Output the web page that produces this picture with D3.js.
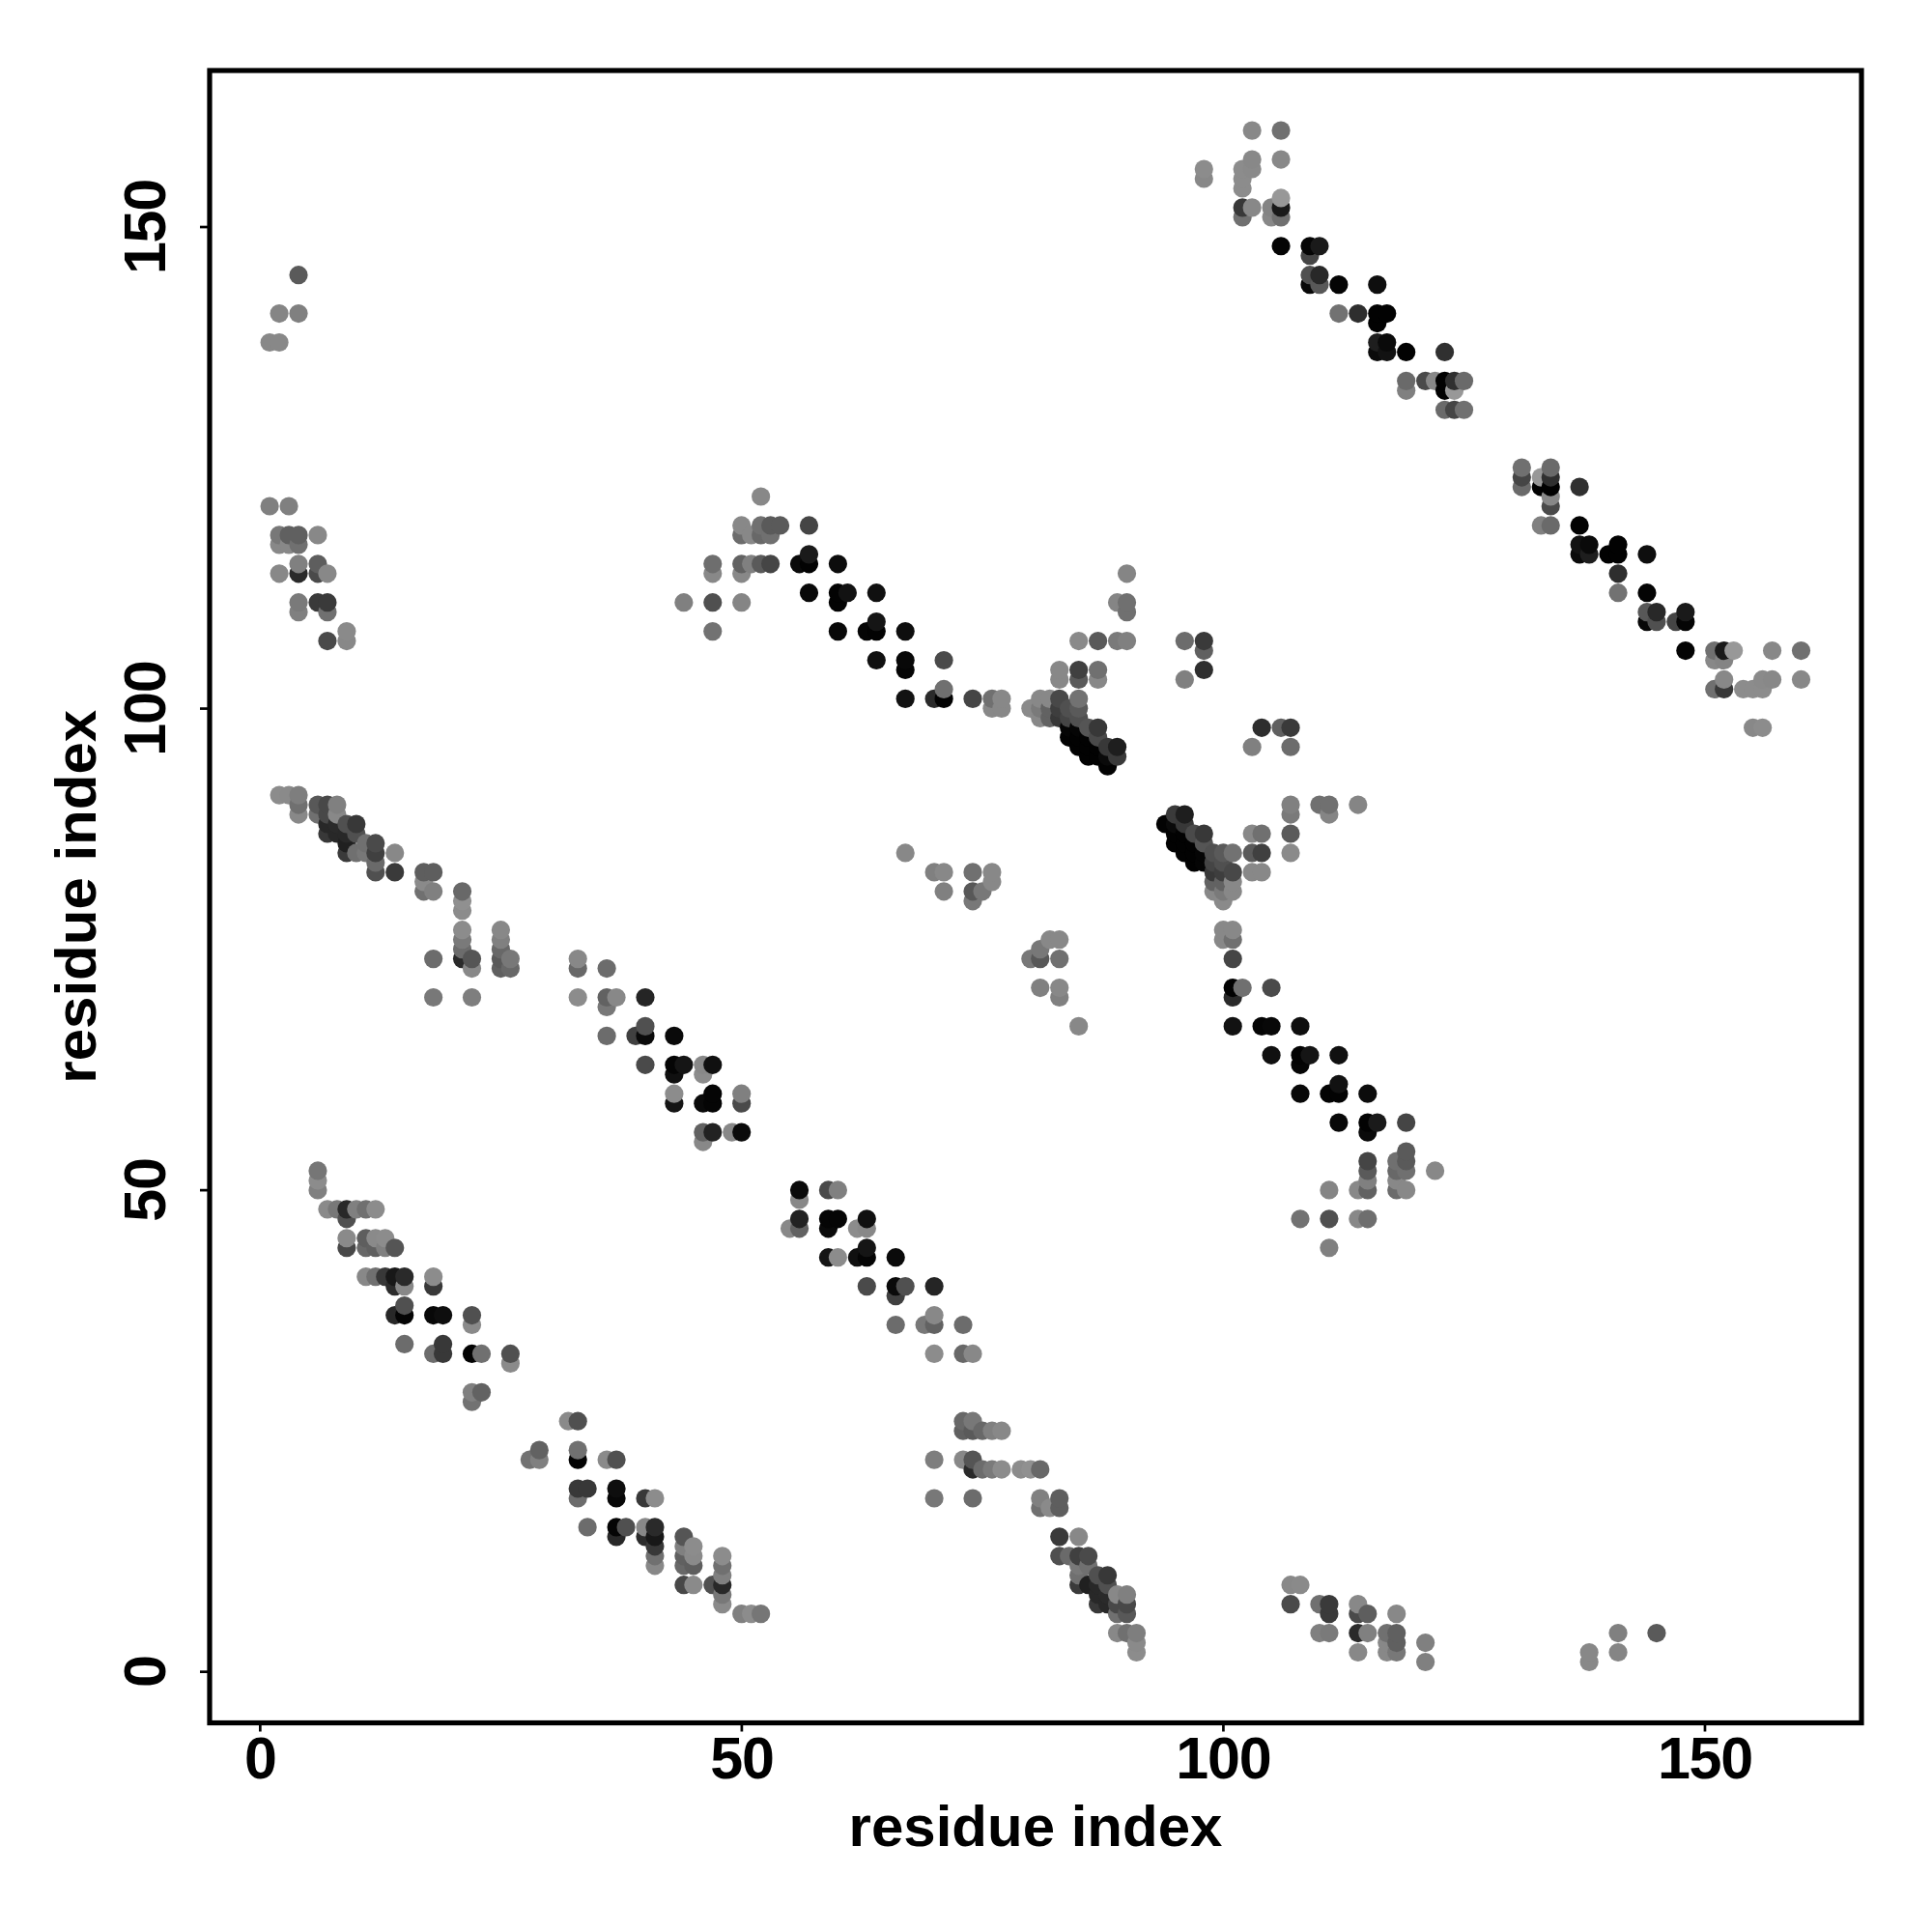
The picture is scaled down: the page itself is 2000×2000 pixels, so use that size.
<!DOCTYPE html>
<html><head><meta charset="utf-8">
<style>html,body{margin:0;padding:0;background:#fff}svg{display:block}</style>
<script src="https://cdnjs.cloudflare.com/ajax/libs/d3/7.8.5/d3.min.js"></script>
</head><body><div id="chart"></div>
<script>
const xTicks = [0, 50, 100, 150];
const yTicks = [0, 50, 100, 150];
const xTitle = "residue index";
const yTitle = "residue index";
// Contact map is symmetric: each residue below lists its higher-index partners and their grey shade.
const residueA = [1,2,3,4,6,7,8,9,10,11,12,13,14,15,17,18,19,21,22,23,25,26,33,36,37,39,40,43,44,46,47,49,50,51,52,53,54,56,57,60,61,63,64,67,70,71,74,75,76,77,80,81,82,83,84,85,86,87,88,89,90,96,98,102,103,105,106,109,110,112,114,116,117,119,121,122,123,124,125];
const partners = [
[121,138],
[91,114,117,118,138,141],
[91,117,118,121],
[89,90,91,110,111,114,115,117,118,141,145],
[50,51,52,89,90,111,114,115,118],
[48,87,88,89,90,107,110,111,114],
[48,87,88,89,90],
[44,45,47,48,85,86,87,88,107,108],
[48,85,87,88],
[41,44,45,48,85,86],
[41,44,45,48,83,84,85,86],
[41,44,45],
[37,40,41,44,83,85],
[34,37,38,40,41],
[81,82,83],
[33,37,40,41,70,74,81,83],
[33,34,37],
[74,75,76,77,79,80,81],
[28,29,33,36,37,70,73,74],
[29,33],
[73,74,75,76,77],
[32,33,73,74],
[70,73,74],
[66,69,70,73],
[70],
[66],
[63,66,67,70],
[59,60,62,63,66],
[63,111],
[55,56,59,62,63],
[56,59,60,63,108,111,114,115],
[56],
[56,59,60,111,114,115,118,119],
[115,118],
[115,118,119,122],
[115,118,119],
[119],
[115],
[112,115,116,119],
[108,111,112,115],
[112],
[108],
[105,108,109,112],
[85,101,104,105,108],
[83,101],
[81,83,101,102,105],
[80,81,83,101],
[81],
[82,83,100,101],
[100,101],
[100],
[99,100,101],
[99,100,101],
[99,100,101,103,104],
[97,98,99,100],
[96,97,98,99,100,101,103,104,107],
[95,96,97,98],
[95,96,97,98,103,104,107],
[94,95,96],
[95,96,107,111],
[107,110,111,114],
[103,107],
[104,106,107,155,156],
[151,152,154,155,156],
[152,156,157,160],
[151,152],
[148,151,152,153,157,160],
[144,145,147,148],
[144,145,148],
[141,144],
[141],
[137,138,140,141,144],
[137,138,141],
[133,134,137],
[134],
[134],
[131,133,134,137],
[131,133,134],
[131,134]
];
const shades = [
[0x80,0x88],
[0x8c,0x88,0x88,0x78,0x88,0x85],
[0x8a,0x88,0x60,0x80],
[0x88,0x70,0x7e,0x80,0x7a,0x2a,0x80,0x70,0x60,0x80,0x5a],
[0x80,0x8c,0x76,0x70,0x58,0x3a,0x4a,0x5e,0x88],
[0x8a,0x38,0x28,0x48,0x48,0x4a,0x70,0x3a,0x88],
[0x78,0x28,0x2a,0x88,0x80],
[0x48,0x8a,0x50,0x28,0x3a,0x20,0x28,0x50,0x88,0x8a],
[0x80,0x70,0x50,0x38],
[0x88,0x68,0x5e,0x70,0x78,0x70],
[0x70,0x60,0x8a,0x8c,0x50,0x6a,0x40,0x4a],
[0x38,0x80,0x8c],
[0x28,0x2c,0x18,0x55,0x3a,0x88],
[0x6c,0x05,0x50,0x88,0x2a],
[0x70,0x8a,0x5e],
[0x6c,0x08,0x38,0x8c,0x78,0x6c,0x80,0x5e],
[0x38,0x38,0x0e],
[0x2a,0x6c,0x7a,0x8c,0x8c,0x90,0x68],
[0x72,0x80,0x03,0x8a,0x50,0x7e,0x88,0x55],
[0x62,0x70],
[0x60,0x5a,0x68,0x80,0x88],
[0x8a,0x50,0x68,0x78],
[0x8c,0x68,0x88],
[0x6c,0x78,0x62,0x6c],
[0x88],
[0x40],
[0x4a,0x0a,0x50,0x25],
[0x15,0x8c,0x10,0x05,0x0a],
[0x15,0x80],
[0x88,0x62,0x0a,0x8c,0x88],
[0x22,0x05,0x05,0x10,0x72,0x50,0x88,0x6e],
[0x88],
[0x0a,0x4a,0x80,0x85,0x88,0x62,0x6c,0x88],
[0x80,0x88],
[0x5a,0x68,0x70,0x88],
[0x45,0x70,0x5a],
[0x5a],
[0x0a],
[0x08,0x03,0x1a,0x45],
[0x08,0x03,0x03,0x0c],
[0x12],
[0x05],
[0x10,0x03,0x15,0x10],
[0x88,0x12,0x05,0x08,0x0e],
[0x80,0x2a],
[0x80,0x88,0x02,0x70,0x4a],
[0x78,0x58,0x70,0x45],
[0x78],
[0x88,0x88,0x88,0x70],
[0x88,0x88],
[0x8a],
[0x88,0x7a,0x88],
[0x62,0x62,0x88],
[0x38,0x3e,0x48,0x88,0x88],
[0x02,0x05,0x45,0x50],
[0x02,0x02,0x05,0x50,0x5a,0x72,0x5a,0x40,0x8a],
[0x02,0x02,0x02,0x55],
[0x02,0x02,0x4a,0x38,0x88,0x70,0x5a],
[0x03,0x0a,0x38],
[0x3a,0x1e,0x7a,0x85],
[0x80,0x70,0x70,0x85],
[0x80,0x6c],
[0x2e,0x60,0x3a,0x88,0x8c],
[0x70,0x38,0x8c,0x8c,0x8c],
[0x88,0x8a,0x88,0x88],
[0x88,0x84],
[0x04,0x70,0x1a,0x98,0x88,0x70],
[0x08,0x50,0x45,0x05],
[0x58,0x28,0x1a],
[0x72,0x04],
[0x2e],
[0x0a,0x1e,0x02,0x02,0x0e],
[0x12,0x0a,0x02],
[0x80,0x6a,0x02],
[0x4a],
[0x88],
[0x6a,0x02,0x02,0x30],
[0x45,0x98,0x30],
[0x70,0x6a]
];

const contacts = [];
residueA.forEach((a, i) => partners[i].forEach((b, k) => {
  contacts.push({x: a, y: b, grey: shades[i][k]});
  contacts.push({x: b, y: a, grey: shades[i][k]});
}));
contacts.sort((p, q) => d3.ascending(p.x, q.x) || d3.ascending(p.y, q.y));

const svg = d3.select("#chart").append("svg").attr("width", 2000).attr("height", 2000);
const left = 217, right = 1927, top_ = 73, bottom = 1783.5;
const x = d3.scaleLinear().domain([-5.2, 166.3]).range([left, right]);
const y = d3.scaleLinear().domain([-5.35, 166.2]).range([bottom, top_]);

svg.append("g").selectAll("circle").data(contacts).join("circle")
  .attr("cx", d => x(d.x) + 0.3).attr("cy", d => y(d.y) + 0.3).attr("r", 9.6)
  .attr("fill", d => d3.rgb(d.grey, d.grey, d.grey).formatHex());

const font = "'Liberation Sans', Arial, sans-serif";
const gx = svg.append("g").attr("transform", `translate(0,${bottom})`)
  .call(d3.axisBottom(x).tickValues(xTicks).tickSize(9).tickPadding(0).tickFormat(d3.format("d")));
const gy = svg.append("g").attr("transform", `translate(${left},0)`)
  .call(d3.axisLeft(y).tickValues(yTicks).tickSize(10).tickPadding(0).tickFormat(d3.format("d")));
[gx, gy].forEach(g => {
  g.select(".domain").remove();
  g.selectAll("line").attr("stroke", "#000").attr("stroke-width", 2.7);
  g.selectAll("text").attr("font-family", font).attr("font-weight", "bold").attr("font-size", 61)
    .attr("letter-spacing", "-1.2px").attr("fill", "#000");
});
gx.selectAll("line").attr("y1", 2);
gy.selectAll("line").attr("x1", -2);
gx.selectAll("text").attr("y", 0).attr("dy", null)
  .attr("transform", "translate(0,57)").attr("text-anchor", "middle");
gy.selectAll("text").attr("x", 0).attr("dy", null)
  .attr("transform", "translate(-46,0) rotate(-90)").attr("text-anchor", "middle");

svg.append("rect").attr("x", left).attr("y", top_).attr("width", right - left).attr("height", bottom - top_)
  .attr("fill", "none").attr("stroke", "#000").attr("stroke-width", 5.2);

svg.append("text").attr("x", (left + right) / 2).attr("y", 1911).attr("text-anchor", "middle")
  .attr("font-family", font).attr("font-weight", "bold").attr("font-size", 60).text(xTitle);
svg.append("text").attr("transform", `translate(99,${(top_ + bottom) / 2}) rotate(-90)`).attr("text-anchor", "middle")
  .attr("font-family", font).attr("font-weight", "bold").attr("font-size", 60).text(yTitle);
</script></body></html>
